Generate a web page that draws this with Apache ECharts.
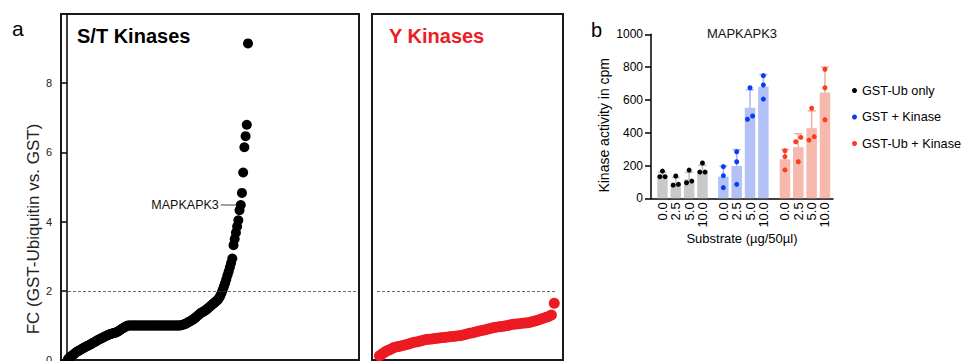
<!DOCTYPE html>
<html><head><meta charset="utf-8">
<script src="https://cdn.jsdelivr.net/npm/echarts@6/dist/echarts.min.js"></script>
<style>html,body{margin:0;padding:0;background:#fff}#c{width:964px;height:361px}</style>
</head><body><div id="c"></div>
<script>
// ---------------- data: panel a ----------------
// ranked fold changes, S/T kinases (ascending)
const stKinaseFC = [
  0.03,0.06,0.09,0.12,0.14,0.17,0.20,0.23,0.25,0.27,0.29,0.31,0.33,0.35,0.37,0.39,0.41,0.42,0.44,0.46,
  0.48,0.50,0.52,0.54,0.56,0.58,0.60,0.62,0.63,0.65,0.67,0.69,0.70,0.72,0.74,0.75,0.76,0.77,0.78,0.79,
  0.80,0.82,0.84,0.86,0.89,0.91,0.93,0.95,0.97,0.99,
  1.00,1.00,1.00,1.00,1.00,1.00,1.00,1.00,1.00,1.00,1.00,1.00,1.00,1.00,1.00,1.00,1.00,1.00,1.00,1.00,1.00,1.00,
  1.00,1.00,1.00,1.00,1.00,1.00,1.00,1.00,1.00,1.00,1.00,1.00,1.00,1.00,1.00,1.00,1.00,1.00,1.00,1.00,1.00,1.00,
  1.01,1.02,1.03,1.04,1.06,1.08,1.10,1.12,1.14,1.16,1.18,1.21,1.24,1.27,1.30,1.33,1.36,1.38,1.40,1.42,
  1.44,1.47,1.50,1.53,1.56,1.59,1.62,1.65,1.68,1.71,1.74,1.79,1.85,1.93,
  2.02,2.12,2.22,2.33,2.45,2.56,2.68,2.80,2.93,3.32,3.50,3.68,3.86,4.04,4.33,4.48,4.83,5.42,6.15,6.47,
  6.80,9.15
];
// ranked fold changes, Y kinases (ascending)
const yKinaseFC = [
  0.12,0.18,0.24,0.28,0.32,0.36,0.38,0.40,0.42,0.44,0.46,0.49,0.51,0.53,0.55,0.57,0.59,0.60,0.61,0.62,
  0.63,0.64,0.65,0.66,0.67,0.68,0.69,0.70,0.71,0.73,0.75,0.77,0.79,0.81,0.83,0.85,0.87,0.89,0.91,0.93,
  0.95,0.96,0.97,0.98,1.00,1.02,1.03,1.04,1.05,1.06,1.07,1.08,1.10,1.12,1.14,1.17,1.20,1.23,1.26,1.30,
  1.64
];
const fcThreshold = 2;
const highlightName = 'MAPKAPK3';
const highlightFC = 4.48;
const fcTicks = [0, 2, 4, 6, 8];

// ---------------- data: panel b ----------------
const substrateLevels = ['0.0', '2.5', '5.0', '10.0'];
const groupNames = ['GST-Ub only', 'GST + Kinase', 'GST-Ub + Kinase'];
const meanGSTUbOnly = [140, 97, 116, 172];
const meanGSTKinase = [132, 197, 552, 680];
const meanGSTUbKinase = [238, 312, 428, 645];
const sdGSTUbOnly = [19, 30, 42, 30];
const sdGSTKinase = [64, 100, 110, 75];
const sdGSTUbKinase = [60, 82, 105, 155];
const repGSTUbOnly = [[132, 166, 132], [80, 136, 85], [95, 172, 105], [160, 215, 160]];
const repGSTKinase = [[193, 138, 65], [284, 223, 85], [482, 674, 502], [748, 691, 605]];
const repGSTUbKinase = [[290, 254, 173], [345, 223, 372], [355, 549, 376], [787, 674, 479]];

// ---------------- chart ----------------
const FONT = 'Liberation Sans, Arial, Helvetica, sans-serif';
const barColors = ['#c9c9c9', '#b3c1f7', '#f7b8ae'];
const errColors = ['#bcbcbc', '#a6b6f3', '#f3aa9e'];
const dotColors = ['#000000', '#0b3cf4', '#fb3b1e'];
const means = [meanGSTUbOnly, meanGSTKinase, meanGSTUbKinase];
const sds = [sdGSTUbOnly, sdGSTKinase, sdGSTUbKinase];
const reps = [repGSTUbOnly, repGSTKinase, repGSTUbKinase];

const chart = echarts.init(document.getElementById('c'), null, {renderer: 'svg'});

const hiIdx = stKinaseFC.indexOf(highlightFC);
const stData = stKinaseFC.map((v, i) => {
  if (i !== hiIdx) return [i + 1, v];
  return {
    value: [i + 1, v],
    label: {
      show: true, position: 'left', distance: 0,
      formatter: '{t|' + highlightName + '}{l|}',
      rich: {
        t: {fontSize: 12.5, color: '#111', fontFamily: FONT, padding: [0, 2, 0, 0]},
        l: {width: 15, height: 1, backgroundColor: '#444'}
      }
    }
  };
});
const yData = yKinaseFC.map((v, i) => [i + 1, v]);

// jitter replicate dots that would overlap (Prism-like)
function dotItems(repArr) {
  const out = [];
  repArr.forEach((trip, ci) => {
    const order = trip.map((v, k) => k).sort((a, b) => trip[a] - trip[b]);
    const off = [0, 0, 0];
    for (let j = 0; j < order.length - 1; j++) {
      const a = order[j], b = order[j + 1];
      if (trip[b] - trip[a] < 30 && off[a] === 0 && off[b] === 0) { off[a] = -2.6; off[b] = 2.6; }
    }
    trip.forEach((v, k) => out.push({value: [ci, v], symbolOffset: [off[k], 0]}));
  });
  return out;
}

const gridsB = [655.8, 716.7, 778.3];
const grid = [
  {left: 61, top: 14, width: 298, height: 346, show: true, borderColor: '#1a1a1a', borderWidth: 2, backgroundColor: 'transparent', outerBoundsMode: 'none', containLabel: false},
  {left: 372, top: 14, width: 191, height: 346, show: true, borderColor: '#1a1a1a', borderWidth: 2, backgroundColor: 'transparent', outerBoundsMode: 'none', containLabel: false},
  {left: 651, top: 34.3, width: 182, height: 164, outerBoundsMode: 'none', containLabel: false}
].concat(gridsB.map(l => ({left: l, top: 34.3, width: 53.33, height: 164, outerBoundsMode: 'none', containLabel: false})));

const xAxis = [
  {gridIndex: 0, type: 'value', min: -4.794, max: 241.88, show: false},
  {gridIndex: 1, type: 'value', min: -1.57, max: 64, show: false},
  {gridIndex: 2, type: 'value', min: 0, max: 1, axisLine: {show: true, lineStyle: {color: '#000', width: 1.5}},
   axisTick: {show: false}, axisLabel: {show: false}, splitLine: {show: false},
   name: 'Substrate (µg/50µl)', nameLocation: 'middle', nameGap: 34,
   nameTextStyle: {fontSize: 13, color: '#000', fontFamily: FONT}}
].concat([0, 1, 2].map(g => ({
  gridIndex: 3 + g, type: 'category', data: substrateLevels,
  axisLine: {show: false}, axisTick: {show: false}, splitLine: {show: false},
  axisLabel: {rotate: 90, fontSize: 13, margin: 4, color: '#000', fontFamily: FONT, interval: 0}
})));

const yAxis = [
  {gridIndex: 0, type: 'value', min: 0, max: 10, interval: 2,
   axisLine: {show: true, lineStyle: {color: '#000', width: 1.5}},
   axisTick: {show: true, length: 6, lineStyle: {color: '#000', width: 1.5}},
   axisLabel: {fontSize: 11, margin: 9, color: '#222', fontFamily: FONT, showMaxLabel: false,
     formatter: v => fcTicks.indexOf(v) >= 0 ? String(v) : ''},
   splitLine: {show: false},
   name: 'FC (GST-Ubiquitin vs. GST)', nameLocation: 'middle', nameGap: 15,
   nameTextStyle: {fontSize: 17, color: '#222', fontFamily: FONT, padding: [0, 84, 0, 0]}},
  {gridIndex: 1, type: 'value', min: 0, max: 10, show: false},
  {gridIndex: 2, type: 'value', min: 0, max: 1000, interval: 200,
   axisLine: {show: true, lineStyle: {color: '#000', width: 1.5}},
   axisTick: {show: true, length: 6, lineStyle: {color: '#000', width: 1.5}},
   axisLabel: {fontSize: 12, margin: 8, color: '#000', fontFamily: FONT, formatter: v => String(v)},
   splitLine: {show: false},
   name: 'Kinase activity in cpm', nameLocation: 'middle', nameGap: 40,
   nameTextStyle: {fontSize: 14, color: '#000', fontFamily: FONT, padding: [0, 18, 0, 0]}}
].concat([0, 1, 2].map(g => ({gridIndex: 3 + g, type: 'value', min: 0, max: 1000, show: false})));

const dashed = {type: [3, 2], color: '#444', width: 0.8};
const series = [
  {type: 'scatter', name: 'S/T', xAxisIndex: 0, yAxisIndex: 0, data: stData, symbolSize: 10,
   itemStyle: {color: '#000', opacity: 1}, z: 3,
   markLine: {silent: true, symbol: ['none', 'none'], label: {show: false}, lineStyle: dashed,
     data: [[{coord: [-3.14, fcThreshold]}, {coord: [241.05, fcThreshold]}]]}},
  {type: 'scatter', name: 'Y', xAxisIndex: 1, yAxisIndex: 1, data: yData, symbolSize: 11,
   itemStyle: {color: '#ec1a22', opacity: 1}, z: 3,
   markLine: {silent: true, symbol: ['none', 'none'], label: {show: false}, lineStyle: dashed,
     data: [[{coord: [0.15, fcThreshold]}, {coord: [yKinaseFC.length + 0.9, fcThreshold]}]]}}
];
[0, 1, 2].forEach(g => {
  series.push({type: 'bar', name: groupNames[g] + ' mean', xAxisIndex: 3 + g, yAxisIndex: 3 + g,
    data: means[g], barWidth: 10.5, itemStyle: {color: barColors[g]}, z: 2});
  series.push({type: 'custom', name: groupNames[g] + ' SD', xAxisIndex: 3 + g, yAxisIndex: 3 + g,
    data: means[g].map((m, i) => [i, m, sds[g][i]]), encode: {x: 0, y: 1}, z: 3,
    renderItem: (params, api) => {
      const x = api.value(0), m = api.value(1), s = api.value(2);
      const p0 = api.coord([x, m]), p1 = api.coord([x, m + s]);
      const st = {stroke: errColors[g], lineWidth: 1.5};
      return {type: 'group', children: [
        {type: 'line', shape: {x1: p0[0], y1: p0[1], x2: p1[0], y2: p1[1]}, style: st},
        {type: 'line', shape: {x1: p1[0] - 4, y1: p1[1], x2: p1[0] + 4, y2: p1[1]}, style: st}
      ]};
    }});
  series.push({type: 'scatter', name: groupNames[g], xAxisIndex: 3 + g, yAxisIndex: 3 + g,
    data: dotItems(reps[g]), symbolSize: 5, itemStyle: {color: dotColors[g], opacity: 1}, z: 4});
});

function txt(t, x, y, size, color, weight, align) {
  return {type: 'text', x: x, y: y, silent: true,
    style: {text: t, fontSize: size, fontFamily: FONT, fontWeight: weight || 'normal', fill: color,
      align: align || 'left', verticalAlign: 'middle', textAlign: align || 'left', textVerticalAlign: 'middle'}};
}

chart.setOption({
  animation: false,
  textStyle: {fontFamily: FONT},
  grid: grid, xAxis: xAxis, yAxis: yAxis, series: series,
  legend: {data: groupNames, orient: 'vertical', left: 852, top: 84, padding: 0, itemWidth: 5, itemHeight: 5,
    itemGap: 13.5, icon: 'circle', selectedMode: false,
    textStyle: {fontSize: 12.7, color: '#000', fontFamily: FONT}},
  graphic: [
    txt('a', 12, 28, 21, '#000'),
    txt('S/T Kinases', 77, 35.5, 20, '#000', 'bold'),
    txt('Y Kinases', 389, 35.5, 20, '#ee1c24', 'bold'),
    txt('b', 591, 30, 20, '#000'),
    txt('MAPKAPK3', 742, 33.5, 13, '#111', 'normal', 'center')
  ]
});
</script></body></html>
